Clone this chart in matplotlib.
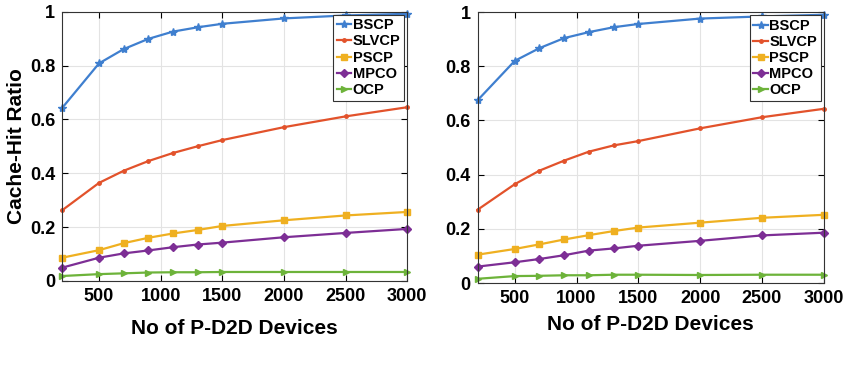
import numpy as np
import matplotlib.pyplot as plt

plt.rcParams['font.family'] = ['Liberation Sans', 'DejaVu Sans']
plt.rcParams['font.weight'] = 'bold'

devices = [200, 500, 700, 900, 1100, 1300, 1500, 2000, 2500, 3000]
series_names = ['BSCP', 'SLVCP', 'PSCP', 'MPCO', 'OCP']

# left panel
left_vals = {
    'BSCP':  [0.642, 0.808, 0.861, 0.899, 0.926, 0.942, 0.955, 0.975, 0.986, 0.992],
    'SLVCP': [0.262, 0.364, 0.409, 0.445, 0.475, 0.500, 0.523, 0.571, 0.611, 0.645],
    'PSCP':  [0.086, 0.114, 0.140, 0.160, 0.176, 0.189, 0.204, 0.225, 0.243, 0.256],
    'MPCO':  [0.049, 0.086, 0.102, 0.113, 0.125, 0.135, 0.142, 0.162, 0.178, 0.193],
    'OCP':   [0.018, 0.025, 0.028, 0.031, 0.032, 0.032, 0.033, 0.033, 0.033, 0.033],
}
# right panel
right_vals = {
    'BSCP':  [0.675, 0.820, 0.867, 0.904, 0.926, 0.944, 0.956, 0.976, 0.984, 0.990],
    'SLVCP': [0.271, 0.365, 0.415, 0.452, 0.485, 0.508, 0.524, 0.571, 0.612, 0.643],
    'PSCP':  [0.105, 0.126, 0.143, 0.161, 0.177, 0.192, 0.205, 0.223, 0.241, 0.252],
    'MPCO':  [0.061, 0.077, 0.089, 0.103, 0.120, 0.128, 0.138, 0.156, 0.176, 0.186],
    'OCP':   [0.016, 0.026, 0.027, 0.029, 0.029, 0.031, 0.031, 0.030, 0.031, 0.031],
}

colors = ['#3F7FCF', '#E2522B', '#EFB021', '#7D2E95', '#6DB33A']
markers = ['*', '.', 's', 'D', '>']
msizes = [6, 5, 4.5, 4.5, 5]
xticks = [500, 1000, 1500, 2000, 2500, 3000]
yticks = [0, 0.2, 0.4, 0.6, 0.8, 1]
ytick_labels = ['0', '0.2', '0.4', '0.6', '0.8', '1']

fig = plt.figure(figsize=(8.5, 3.77), dpi=100)
ax1 = fig.add_axes([0.073, 0.255, 0.406, 0.714])
ax2 = fig.add_axes([0.562, 0.249, 0.407, 0.719])

for ax, vals, lpad in [(ax1, left_vals, 10), (ax2, right_vals, 6)]:
    for name, c, m, ms in zip(series_names, colors, markers, msizes):
        ax.plot(devices, vals[name], color=c, marker=m, markersize=ms,
                linewidth=1.6, label=name, clip_on=False)
    ax.set_xlim(200, 3000)
    ax.set_ylim(0, 1)
    ax.set_xticks(xticks)
    ax.set_yticks(yticks)
    ax.set_yticklabels(ytick_labels)
    ax.grid(True, color='#e3e3e3', linewidth=0.8)
    ax.tick_params(direction='in', top=True, right=True, labelsize=13, length=4, pad=5)
    for lab in ax.get_xticklabels() + ax.get_yticklabels():
        lab.set_fontweight('bold')
    for sp in ax.spines.values():
        sp.set_color('#333333')
        sp.set_linewidth(0.8)
    ax.set_xlabel('No of P-D2D Devices', fontsize=15, fontweight='bold', labelpad=lpad)
    leg = ax.legend(loc='upper right', fontsize=10.5, handlelength=1.0, handletextpad=0.1,
                    borderpad=0.25, labelspacing=0.15, fancybox=False, framealpha=1,
                    borderaxespad=0.2)
    leg.get_frame().set_edgecolor('#333333')
    leg.get_frame().set_linewidth(0.8)
    for t in leg.get_texts():
        t.set_fontweight('bold')

ax1.set_ylabel('Cache-Hit Ratio', fontsize=15, fontweight='bold', labelpad=3)

fig.savefig('out.png', dpi=100)
